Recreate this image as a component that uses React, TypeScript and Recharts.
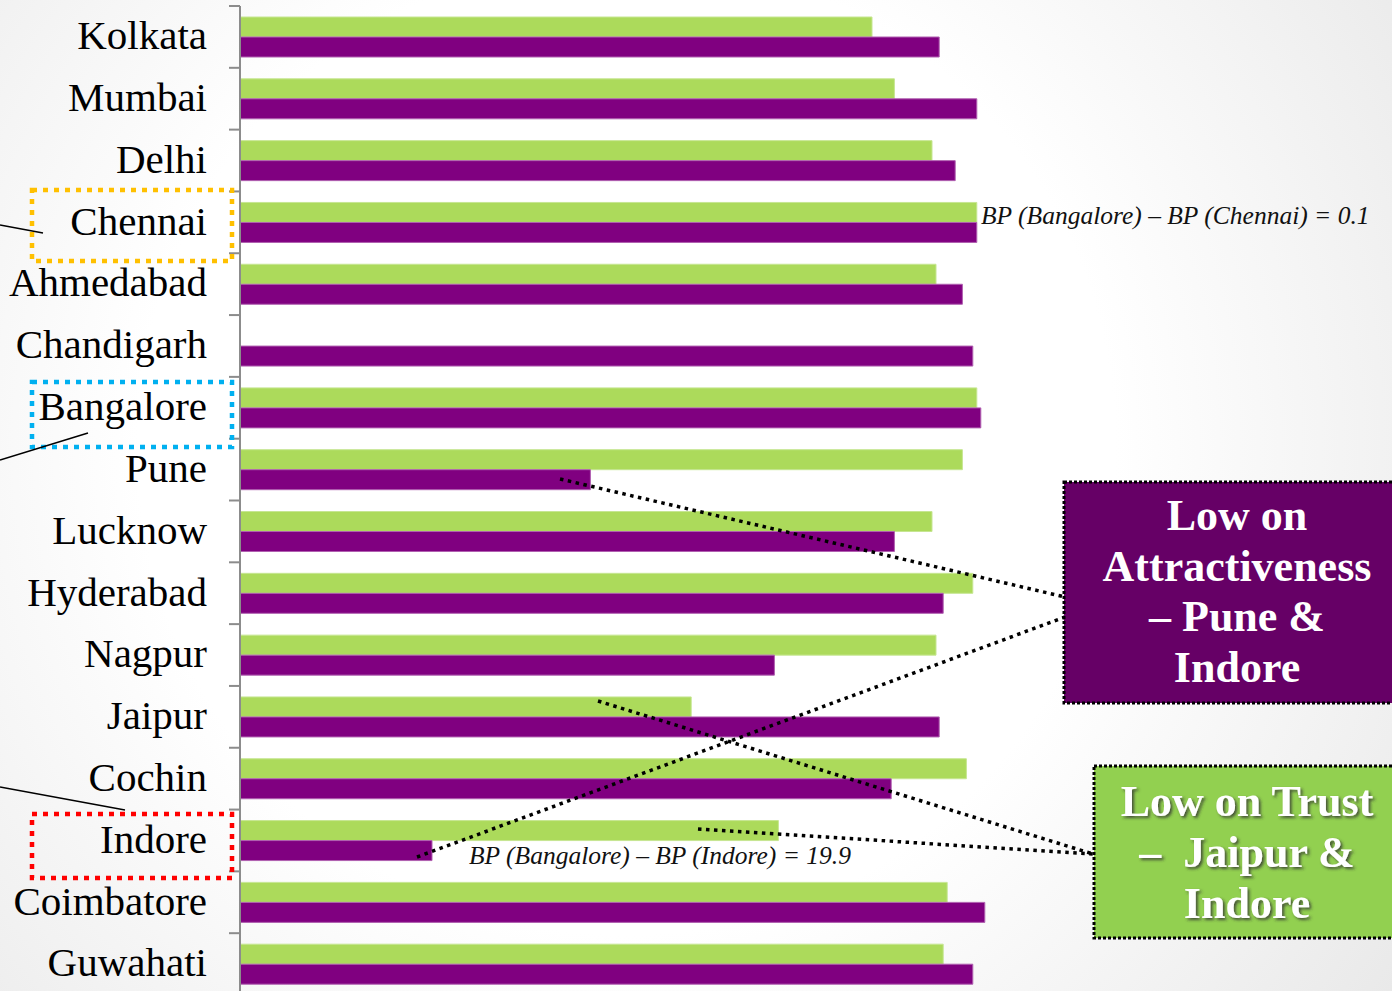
import { BarChart, Bar, XAxis, YAxis } from "recharts";

const cities = [
  "Kolkata",
  "Mumbai",
  "Delhi",
  "Chennai",
  "Ahmedabad",
  "Chandigarh",
  "Bangalore",
  "Pune",
  "Lucknow",
  "Hyderabad",
  "Nagpur",
  "Jaipur",
  "Cochin",
  "Indore",
  "Coimbatore",
  "Guwahati",
];

// green bars (trust) and purple bars (attractiveness)
const trustScores = [79.0, 81.8, 86.5, 92.1, 87.0, null, 92.1, 90.3, 86.5, 91.6, 87.0, 56.4, 90.8, 67.3, 88.4, 87.9];
const attractivenessScores = [87.4, 92.1, 89.4, 92.1, 90.3, 91.6, 92.6, 43.8, 81.8, 87.9, 66.8, 87.4, 81.4, 24.0, 93.1, 91.6];

const rows = cities.map((city, i) => ({
  city,
  trust: trustScores[i],
  attractiveness: attractivenessScores[i],
}));

const SERIF = "'Liberation Serif', 'Times New Roman', serif";
const AXIS_GREY = "#8c8c8c";

// city name plus a short tick on the upper edge of its band
const CityTick = (props: any) => {
  const { x, y, payload } = props;
  const half = payload.offset ?? 0;
  return (
    <g>
      <line x1={x + 22} x2={x + 33} y1={y - half} y2={y - half} stroke={AXIS_GREY} strokeWidth={2} />
      <text x={x} y={y} dy="0.3em" textAnchor="end" fontFamily={SERIF} fontSize={41} fill="#000">
        {payload.value}
      </text>
    </g>
  );
};

const Notes = () => (
  <svg
    width={1392}
    height={991}
    style={{ position: "absolute", left: 0, top: 0, pointerEvents: "none" }}
  >
    <defs>
      <filter id="shadow" x="-10%" y="-10%" width="120%" height="130%">
        <feDropShadow dx="2" dy="2" stdDeviation="1.5" floodColor="#333" floodOpacity="0.8" />
      </filter>
    </defs>

    {/* highlighted city labels */}
    <rect x={32} y={190} width={200} height={71} fill="none" stroke="#ffc000" strokeWidth={4.5} strokeDasharray="5 6" />
    <rect x={32} y={382} width={200} height={65} fill="none" stroke="#00b0f0" strokeWidth={4.5} strokeDasharray="5 6" />
    <rect x={32} y={814} width={200} height={64} fill="none" stroke="#ff0000" strokeWidth={4.5} strokeDasharray="5 6" />
    <line x1={0} y1={225} x2={43} y2={233} stroke="#000" strokeWidth={1.5} />
    <line x1={0} y1={460} x2={88} y2={433} stroke="#000" strokeWidth={1.5} />
    <line x1={0} y1={787} x2={125} y2={810} stroke="#000" strokeWidth={1.5} />

    {/* connectors to the callouts */}
    <g stroke="#000" strokeWidth={3.5} strokeDasharray="3.5 4.5" fill="none">
      <line x1={560} y1={479} x2={1065} y2={597} />
      <line x1={417} y1={857} x2={1065} y2={617} />
      <line x1={598} y1={701} x2={1093} y2={854} />
      <line x1={698} y1={829} x2={1093} y2={854} />
    </g>

    <g fontFamily={SERIF} fontStyle="italic" fontSize={25.5} fill="#111">
      <text x={981} y={224}>BP (Bangalore) – BP (Chennai) = 0.1</text>
      <text x={469} y={864}>BP (Bangalore) – BP (Indore) = 19.9</text>
    </g>

    {/* callout: attractiveness */}
    <rect x={1064} y={482} width={340} height={221} fill="#660066" stroke="#000" strokeWidth={3} strokeDasharray="3 2" />
    <g fontFamily={SERIF} fontWeight="bold" fontSize={44} fill="#fff" textAnchor="middle">
      <text x={1237} y={530}>Low on</text>
      <text x={1237} y={581}>Attractiveness</text>
      <text x={1237} y={631}>– Pune &amp;</text>
      <text x={1237} y={682}>Indore</text>
    </g>

    {/* callout: trust */}
    <rect x={1094} y={766} width={310} height={172} fill="#92d050" stroke="#000" strokeWidth={3} strokeDasharray="3 2" />
    <g fontFamily={SERIF} fontWeight="bold" fontSize={44} fill="#fff" textAnchor="middle" filter="url(#shadow)">
      <text x={1247} y={816}>Low on Trust</text>
      <text x={1247} y={867} xmlSpace="preserve">–  Jaipur &amp;</text>
      <text x={1247} y={918}>Indore</text>
    </g>
  </svg>
);

export default function App() {
  return (
    <div
      style={{
        position: "absolute",
        left: 0,
        top: 0,
        width: 1392,
        height: 991,
        overflow: "hidden",
        background: "radial-gradient(circle at 45% 45%, #ffffff 52%, #e9e9e9 100%)",
      }}
    >
      <BarChart
        width={1392}
        height={995}
        data={rows}
        layout="vertical"
        margin={{ top: 6, right: 352, bottom: 0, left: 0 }}
        barCategoryGap={11}
        barGap={0}
      >
        <XAxis type="number" domain={[0, 100]} hide height={0} />
        <YAxis
          type="category"
          dataKey="city"
          width={240}
          tick={<CityTick />}
          tickLine={false}
          tickSize={11}
          tickMargin={22}
          axisLine={{ stroke: AXIS_GREY, strokeWidth: 2 }}
          interval={0}
        />
        <Bar dataKey="trust" fill="#acda5b" stroke="#c6e692" strokeWidth={1} isAnimationActive={false} />
        <Bar dataKey="attractiveness" fill="#800080" stroke="#b060b0" strokeWidth={1} isAnimationActive={false} />
      </BarChart>
      <Notes />
    </div>
  );
}
